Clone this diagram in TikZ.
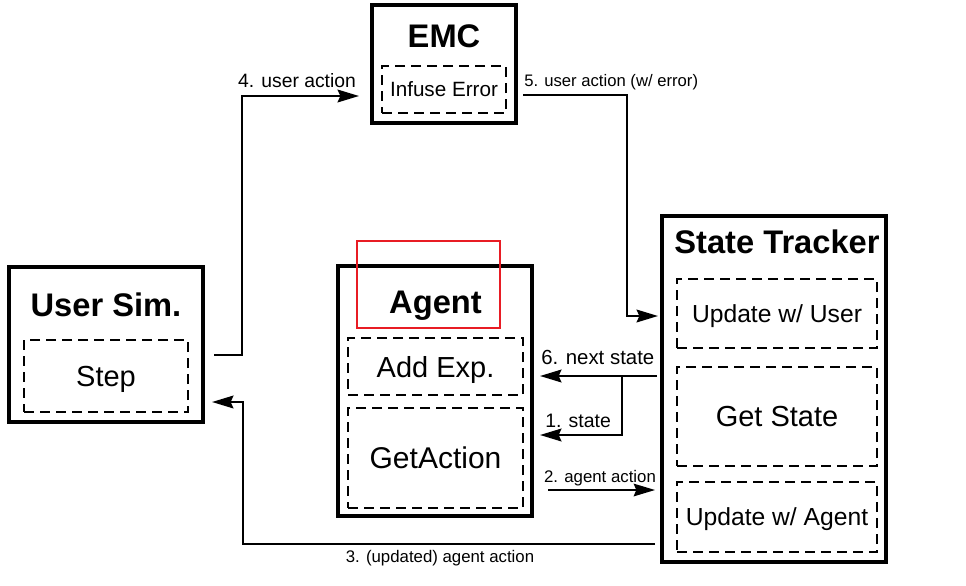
\documentclass[tikz,border=0pt]{standalone}
\usepackage{fontspec}
\setmainfont{Liberation Sans}
\usetikzlibrary{arrows.meta}
\definecolor{redmark}{RGB}{232,28,36}
\begin{document}
\begin{tikzpicture}[x=0.75pt,y=-0.75pt,
  outerbox/.style={draw=black, line width=3pt, inner sep=0pt},
  dbox/.style={draw=black, line width=1.5pt, dash pattern=on 7.5pt off 4.5pt, inner sep=0pt, text depth=0pt},
  title/.style={anchor=base, inner sep=0pt, font=\bfseries\fontsize{24.5}{28}\selectfont},
  lbl/.style={anchor=base, inner sep=0pt},
  conn/.style={line width=1.9pt, -{Stealth[length=16pt,width=9.5pt,inset=2pt]}},
  fbig/.style={font=\fontsize{21.75}{25}\selectfont},
  fmid/.style={font=\fontsize{18.5}{22}\selectfont}]
\fill[white] (0,0) rectangle (966,585);
\useasboundingbox (0,0) rectangle (966,585);

% EMC
\node[outerbox, minimum width=108pt, minimum height=88.5pt] (emc) at (444,64) {};
\node[title] (emct) at (444,48) {EMC};
\node[dbox, minimum width=93pt, minimum height=35.25pt, font=\fontsize{15.5}{18}\selectfont] (infuse) at (444,89.5) {Infuse Error};

% User Sim
\node[outerbox, minimum width=145.5pt, minimum height=116.25pt] (usersim) at (106,344.5) {};
\node[title] (usersimt) at (106,316.7) {User Sim.};
\node[dbox, fbig, minimum width=123pt, minimum height=54pt] (stepbox) at (106,376) {Step};

% Agent
\node[outerbox, minimum width=145.5pt, minimum height=187.5pt] (agent) at (435,391) {};
\node[title] (agentt) at (435.5,313) {Agent};
\node[dbox, fbig, minimum width=131.25pt, minimum height=42.75pt] (addexp) at (435.5,366.5) {Add Exp.};
\node[dbox, minimum width=131.25pt, minimum height=75pt, font=\fontsize{22.5}{26}\selectfont] (getaction) at (435.5,458) {GetAction};

% State Tracker
\node[outerbox, minimum width=168pt, minimum height=259.5pt] (st) at (774,389) {};
\node[title] (stt) at (777,253) {State Tracker};
\node[dbox, fmid, minimum width=150pt, minimum height=51.75pt] (upduser) at (777,313.5) {Update w/ User};
\node[dbox, fbig, minimum width=150pt, minimum height=74.25pt] (getstate) at (777,416.5) {Get State};
\node[dbox, fmid, minimum width=150pt, minimum height=52.5pt] (updagent) at (777,517) {Update w/ Agent};

% connectors
\draw[conn, shorten <=6.75pt, shorten >=8.25pt] (usersim.east |- 0,355) -- (242,355) |- (emc.west |- 0,96);
\draw[conn, shorten <=3.75pt, shorten >=1.5pt] (emc.east |- 0,95) -- (627,95) |- (st.west |- 0,316);
\coordinate (j) at (622,376);
\draw[conn, shorten <=2.25pt, shorten >=4.5pt] (st.west |- 0,376) -- (agent.east |- 0,376);
\draw[conn, shorten >=4.5pt] (j) |- (agent.east |- 0,435);
\draw[conn, line width=1.3pt, shorten <=10.5pt, shorten >=3.75pt] (agent.east |- 0,490) -- (st.west |- 0,490);
\draw[conn, shorten <=3.75pt, shorten >=5.25pt] (st.west |- 0,544) -- (243,544) |- (usersim.east |- 0,402);

% labels
\node[lbl, font=\fontsize{14.5}{17}\selectfont] (l4) at (297,87) {4. user action};
\node[lbl, anchor=base west, font=\fontsize{12.5}{15}\selectfont] (l5) at (524,86) {5. user action (w/ error)};
\node[lbl, anchor=base west, font=\fontsize{15.3}{18}\selectfont] (l6) at (541,364) {6. next state};
\node[lbl, anchor=base west, font=\fontsize{14.6}{18}\selectfont] (l1) at (545,427) {1. state};
\node[lbl, font=\fontsize{12.6}{15}\selectfont] (l2) at (600,482) {2. agent action};
\node[lbl, font=\fontsize{12.6}{15}\selectfont] (l3) at (440,562) {3. (updated) agent action};

% red highlight
\node[draw=redmark, line width=2pt, minimum width=107.25pt, minimum height=65.25pt, inner sep=0pt] (mark) at (428.5,284.5) {};
\end{tikzpicture}
\end{document}
